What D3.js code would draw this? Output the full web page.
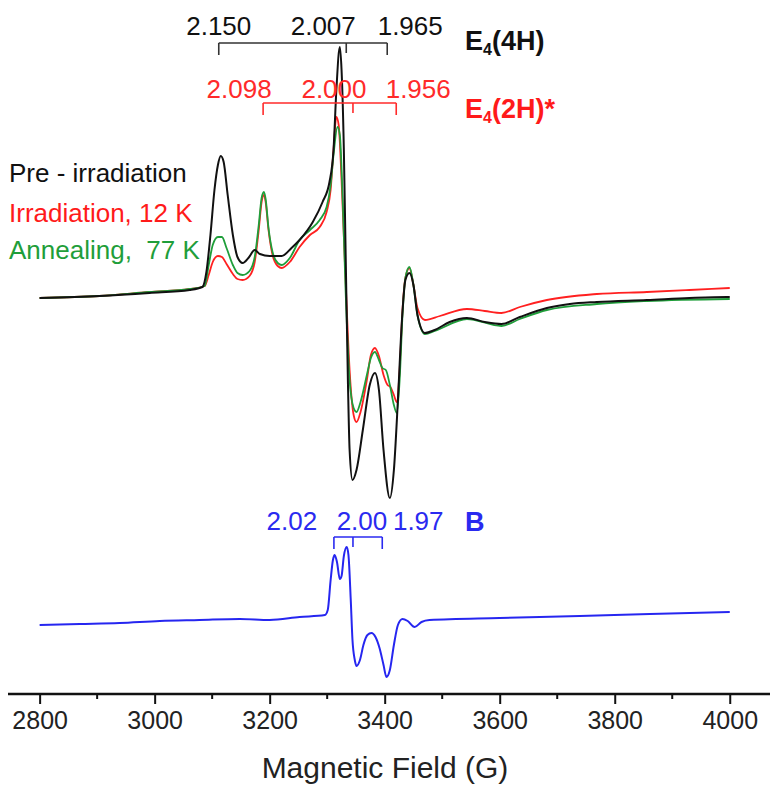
<!DOCTYPE html>
<html>
<head>
<meta charset="utf-8">
<script src="https://cdn.jsdelivr.net/npm/d3@7"></script>
<style>
  body { margin: 0; background: #fff; }
  svg { display: block; font-family: 'Liberation Sans', Arial, sans-serif; }
  text { white-space: pre; }
</style>
</head>
<body>
<div id="chart"></div>
<script>
let width = 771
let height = 785

// spectra: [field (G), intensity (a.u.)]
let preIrradiation = [
  [2800, -1], [2904, 1], [2991, 4], [3061, 7], [3083, 10], [3090, 25], [3097, 62],
  [3104, 107], [3110, 132], [3115, 141], [3120, 135], [3127, 102], [3136, 62],
  [3144, 40], [3153, 34], [3163, 39], [3174, 47], [3183, 43], [3200, 41], [3221, 41],
  [3238, 49], [3252, 57], [3275, 75], [3292, 95], [3304, 115], [3311, 147],
  [3316, 207], [3322, 250], [3325, 227], [3329, 147], [3332, 47], [3336, -83],
  [3339, -153], [3344, -183], [3351, -173], [3362, -133], [3374, -88], [3383, -76],
  [3390, -93], [3398, -153], [3409, -201], [3416, -173], [3423, -103], [3430, -23],
  [3436, 17], [3443, 24], [3450, 12], [3457, -18], [3470, -36], [3487, -33],
  [3513, -25], [3543, -21], [3574, -25], [3603, -27], [3635, -20], [3682, -11],
  [3722, -7], [3769, -5], [3856, -3], [3930, -1], [3995, 0], [4000, 0]
]

let irradiation12K = [
  [2800, -1], [2904, 1], [2991, 5], [3061, 8], [3087, 11], [3094, 22], [3101, 35],
  [3110, 41], [3117, 40], [3125, 33], [3136, 23], [3144, 18], [3153, 17], [3165, 21],
  [3174, 35], [3181, 67], [3186, 95], [3190, 102], [3193, 95], [3198, 67], [3205, 42],
  [3214, 31], [3221, 29], [3235, 35], [3252, 50], [3270, 62], [3287, 70], [3299, 85],
  [3306, 107], [3311, 147], [3316, 180], [3320, 172], [3325, 117], [3332, 17],
  [3339, -73], [3346, -118], [3351, -125], [3358, -115], [3369, -83], [3376, -58],
  [3383, -51], [3390, -59], [3398, -78], [3405, -88], [3410, -90], [3416, -98],
  [3421, -105], [3426, -73], [3431, -13], [3436, 19], [3443, 29], [3450, 12],
  [3457, -11], [3470, -23], [3496, -19], [3543, -12], [3574, -14], [3603, -16],
  [3635, -10], [3682, -3], [3769, 3], [3856, 5], [3930, 7], [4000, 9]
]

let annealing77K = [
  [2800, -1], [2904, 1], [2991, 5], [3061, 8], [3087, 11], [3094, 32], [3101, 52],
  [3110, 60], [3117, 60], [3125, 49], [3136, 32], [3144, 24], [3153, 22], [3165, 26],
  [3174, 40], [3181, 72], [3186, 99], [3190, 105], [3193, 98], [3198, 69], [3205, 45],
  [3214, 34], [3221, 32], [3235, 39], [3252, 57], [3270, 67], [3287, 77], [3299, 90],
  [3306, 112], [3311, 142], [3318, 170], [3322, 162], [3327, 97], [3332, 7],
  [3339, -83], [3346, -111], [3351, -115], [3358, -105], [3369, -78], [3376, -61],
  [3383, -55], [3390, -63], [3396, -71], [3402, -73], [3409, -88], [3416, -108],
  [3421, -116], [3426, -83], [3431, -18], [3436, 19], [3443, 30], [3450, 12],
  [3457, -18], [3470, -37], [3487, -34], [3543, -22], [3603, -29], [3635, -22],
  [3682, -13], [3769, -7], [3856, -4], [4000, -2]
]

let speciesB = [
  [2800, -5], [2870, -4], [2939, -3], [3009, -1], [3078, 0], [3148, 1], [3200, 0],
  [3252, 3], [3296, 5], [3301, 10], [3306, 40], [3310, 60], [3313, 65],
  [3317, 58], [3322, 41], [3325, 44], [3329, 64], [3334, 73], [3337, 65], [3341, 20],
  [3344, -20], [3348, -40], [3351, -46], [3357, -40], [3363, -25], [3370, -15],
  [3377, -13], [3384, -17], [3391, -28], [3398, -45], [3403, -57], [3409, -50],
  [3416, -25], [3423, -5], [3431, 1], [3440, -1], [3452, -7], [3464, -2], [3478, 0],
  [3600, 2], [3739, 4], [3861, 6], [4000, 8]
]
let speciesBOffset = -323

// g-value markers
let freqGHz = 9.363
let e4_4H_g = [2.150, 2.007, 1.965]
let e4_4H_labels = ['2.150', '2.007', '1.965']
let e4_2H_g = [2.098, 2.000, 1.956]
let e4_2H_labels = ['2.098', '2.000', '1.956']
let b_g = [2.02, 2.00, 1.97]
let b_labels = ['2.02', '2.00', '1.97']

let majorTicks = [2800, 3000, 3200, 3400, 3600, 3800, 4000]
let minorTicks = [2900, 3100, 3300, 3500, 3700, 3900]

let fieldOf = g => freqGHz / 1.39962e-3 / g

let xScale = d3.scaleLinear().domain([2745, 4070]).range([8, 770])
let yScale = d3.scaleLinear().domain([-390, 250]).range([687, 47])

let svg = d3.select('#chart')
  .append('svg')
  .attr('width', width)
  .attr('height', height)

let line = d3.line()
  .x(d => xScale(d[0]))
  .y(d => yScale(d[1]))
  .curve(d3.curveMonotoneX)

let series = [
  { data: irradiation12K, color: '#ff2020', w: 1.8 },
  { data: annealing77K, color: '#1f9e3a', w: 1.8 },
  { data: preIrradiation, color: '#111', w: 2 },
  { data: speciesB.map(d => [d[0], d[1] + speciesBOffset]), color: '#2626f0', w: 2 }
]

svg.selectAll('.trace')
  .data(series)
  .enter()
  .append('path')
  .attr('class', 'trace')
  .attr('d', d => line(d.data))
  .attr('fill', 'none')
  .attr('stroke', d => d.color)
  .attr('stroke-width', d => d.w)
  .attr('stroke-linejoin', 'round')

// axis
let axisY = 694
let axisG = svg.append('g').attr('transform', `translate(0,${axisY})`)
axisG.append('line')
  .attr('x1', 8).attr('x2', 770)
  .attr('stroke', '#111').attr('stroke-width', 2.5)
axisG.call(
  d3.axisBottom(xScale)
    .tickValues(majorTicks)
    .tickFormat(d3.format('d'))
    .tickSize(10)
    .tickSizeOuter(0)
    .tickPadding(7)
)
axisG.select('.domain').remove()
axisG.selectAll('.tick line').attr('stroke', '#111').attr('stroke-width', 2)
axisG.selectAll('.tick text')
  .attr('font-size', 25)
  .attr('font-family', "'Liberation Sans', Arial, sans-serif")
  .attr('fill', '#222')
axisG.selectAll('.minor')
  .data(minorTicks)
  .enter()
  .append('line')
  .attr('x1', d => xScale(d)).attr('x2', d => xScale(d))
  .attr('y1', 0).attr('y2', 5)
  .attr('stroke', '#111').attr('stroke-width', 2)

svg.append('text')
  .attr('x', 385).attr('y', 778)
  .attr('text-anchor', 'middle')
  .attr('font-size', 30)
  .attr('fill', '#222')
  .text('Magnetic Field (G)')

// brackets
let brackets = [
  { g: e4_4H_g, labels: e4_4H_labels, color: '#333', y: 43, ty: 35, dx: [0, -23, 23],
    name: ['E', '4', '(4H)'], ny: 50, nameColor: '#111' },
  { g: e4_2H_g, labels: e4_2H_labels, color: '#ff2a2a', y: 103, ty: 98, dx: [-24, -19, 22],
    name: ['E', '4', '(2H)*'], ny: 118, nameColor: '#ff1a1a' },
  { g: b_g, labels: b_labels, color: '#2a2af0', y: 537, ty: 530, dx: [-42, 9, 36],
    name: ['B', '', ''], ny: 531, nameColor: '#2a2af0' }
]

brackets.forEach(b => {
  let xs = b.g.map(g => xScale(fieldOf(g)))
  let grp = svg.append('g')
  grp.append('line')
    .attr('x1', xs[0]).attr('x2', xs[2])
    .attr('y1', b.y).attr('y2', b.y)
    .attr('stroke', b.color).attr('stroke-width', 1.6)
  grp.selectAll('.tk')
    .data(xs)
    .enter()
    .append('line')
    .attr('x1', d => d).attr('x2', d => d)
    .attr('y1', b.y).attr('y2', (d, i) => b.y + (i === 1 ? 10 : 12))
    .attr('stroke', b.color).attr('stroke-width', 1.6)
  grp.selectAll('.lbl')
    .data(b.labels)
    .enter()
    .append('text')
    .attr('x', (d, i) => xs[i] + b.dx[i])
    .attr('y', b.ty)
    .attr('text-anchor', 'middle')
    .attr('font-size', 26)
    .attr('fill', b.color === '#333' ? '#111' : b.color)
    .text(d => d)

  let nm = grp.append('text')
    .attr('x', 465).attr('y', b.ny)
    .attr('font-size', 27)
    .attr('font-weight', 'bold')
    .attr('fill', b.nameColor)
  nm.append('tspan').text(b.name[0])
  if (b.name[1]) {
    nm.append('tspan').attr('font-size', 16).attr('dy', 5).text(b.name[1])
    nm.append('tspan').attr('dy', -5).text(b.name[2])
  }
})

// legend
let legendItems = ['Pre - irradiation', 'Irradiation, 12 K', 'Annealing,  77 K']
let legendColors = ['#111', '#ff1a1a', '#1f9e3a']
svg.selectAll('.legend')
  .data(legendItems)
  .enter()
  .append('text')
  .attr('class', 'legend')
  .attr('x', 9)
  .attr('y', (d, i) => [182, 222, 259][i])
  .attr('font-size', 26)
  .attr('fill', (d, i) => legendColors[i])
  .text(d => d)
</script>
</body>
</html>
